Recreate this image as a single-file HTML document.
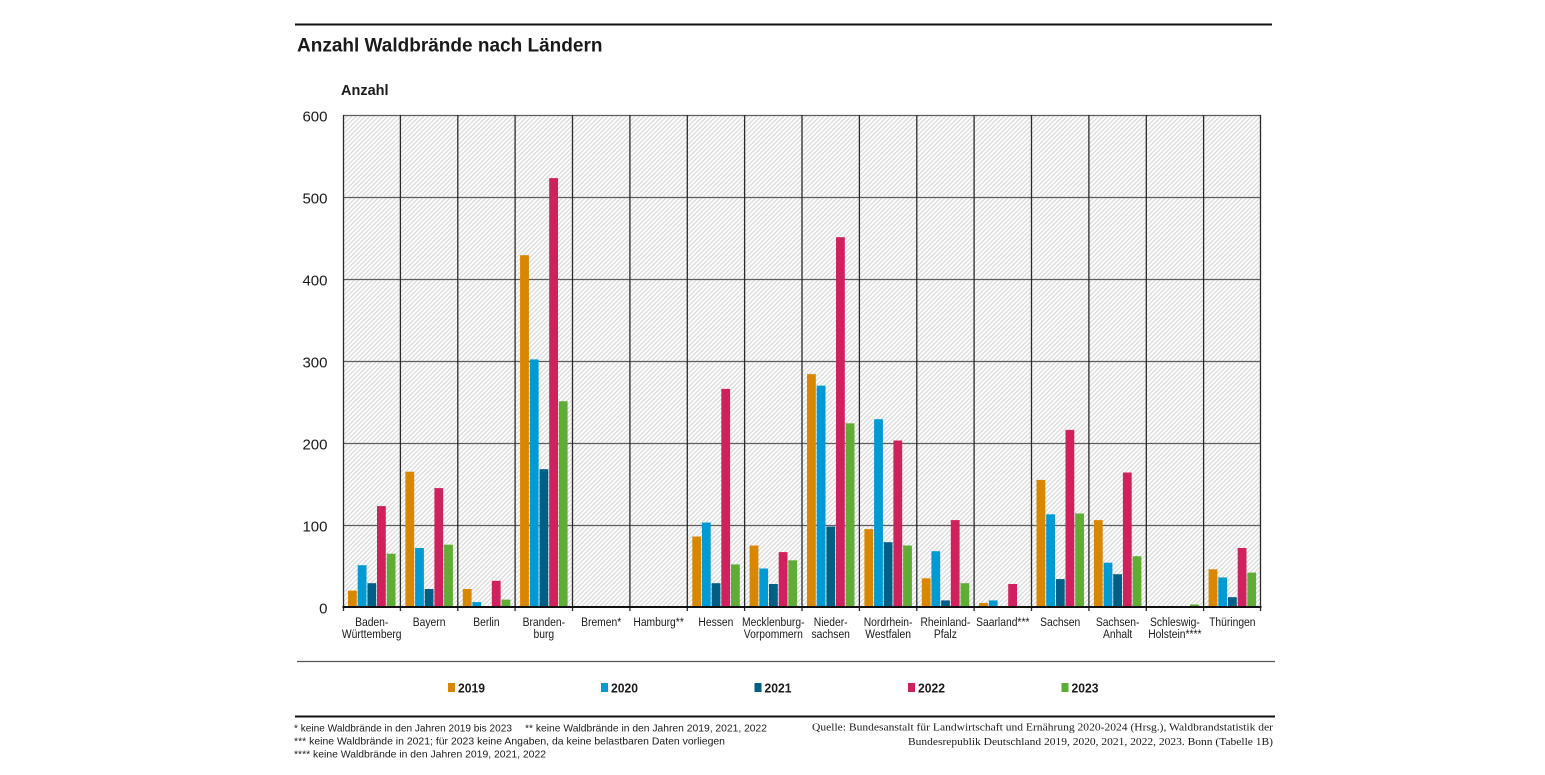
<!DOCTYPE html>
<html>
<head>
<meta charset="utf-8">
<style>
  html,body{margin:0;padding:0;background:#fff;}
  body{width:1545px;height:775px;overflow:hidden;}
  svg{display:block;}
  text{font-family:"Liberation Sans",Arial,sans-serif;fill:#1a1a1a;}
  .serif{font-family:"Liberation Serif","Times New Roman",serif;}
</style>
</head>
<body>
<svg width="1545" height="775" viewBox="0 0 1545 775" xmlns="http://www.w3.org/2000/svg">
  <defs>
    <pattern id="h" width="4.5" height="4.5" patternUnits="userSpaceOnUse">
      <rect width="4.5" height="4.5" fill="#fdfdfd"/>
      <path d="M-1,1 l2,-2 M0,4.5 l4.5,-4.5 M3.5,5.5 l2,-2" stroke="#d6d6d6" stroke-width="1.1"/>
    </pattern>
  </defs>

  <!-- top rule & title -->
  <line x1="295" y1="24.5" x2="1272" y2="24.5" stroke="#111" stroke-width="2"/>
  <text x="297" y="51.5" font-size="19" font-weight="bold">Anzahl Waldbrände nach Ländern</text>
  <text x="341" y="95" font-size="14.5" font-weight="bold">Anzahl</text>

  <!-- plot background -->
  <rect x="343" y="115" width="918" height="492" fill="url(#h)"/>

  <!-- horizontal grid -->
  <g stroke="#5e5e5e" stroke-width="1.3">
    <line x1="343" y1="115.5" x2="1261" y2="115.5"/>
    <line x1="343" y1="197.5" x2="1261" y2="197.5"/>
    <line x1="343" y1="279.5" x2="1261" y2="279.5"/>
    <line x1="343" y1="361.5" x2="1261" y2="361.5"/>
    <line x1="343" y1="443.5" x2="1261" y2="443.5"/>
    <line x1="343" y1="525.5" x2="1261" y2="525.5"/>
  </g>
  <!-- vertical grid -->
  <g stroke="#2a2a2a" stroke-width="1.3">
    <line x1="343.5" y1="115" x2="343.5" y2="611"/>
    <line x1="400.4" y1="115" x2="400.4" y2="611"/>
    <line x1="457.8" y1="115" x2="457.8" y2="611"/>
    <line x1="515.1" y1="115" x2="515.1" y2="611"/>
    <line x1="572.5" y1="115" x2="572.5" y2="611"/>
    <line x1="629.9" y1="115" x2="629.9" y2="611"/>
    <line x1="687.3" y1="115" x2="687.3" y2="611"/>
    <line x1="744.6" y1="115" x2="744.6" y2="611"/>
    <line x1="802" y1="115" x2="802" y2="611"/>
    <line x1="859.4" y1="115" x2="859.4" y2="611"/>
    <line x1="916.8" y1="115" x2="916.8" y2="611"/>
    <line x1="974.1" y1="115" x2="974.1" y2="611"/>
    <line x1="1031.5" y1="115" x2="1031.5" y2="611"/>
    <line x1="1088.9" y1="115" x2="1088.9" y2="611"/>
    <line x1="1146.3" y1="115" x2="1146.3" y2="611"/>
    <line x1="1203.6" y1="115" x2="1203.6" y2="611"/>
    <line x1="1260.5" y1="115" x2="1260.5" y2="611"/>
  </g>

  <!-- bars -->
  <g>
    <!-- 2019 orange -->
    <g fill="#d98700">
      <rect x="348" y="590.6" width="8.8" height="16.4"/>
      <rect x="405.4" y="471.7" width="8.8" height="135.3"/>
      <rect x="462.8" y="589" width="8.8" height="18"/>
      <rect x="520.1" y="255.2" width="8.8" height="351.8"/>
      <rect x="692.3" y="536.5" width="8.8" height="70.5"/>
      <rect x="749.6" y="545.5" width="8.8" height="61.5"/>
      <rect x="807" y="374.1" width="8.8" height="232.9"/>
      <rect x="864.4" y="529.1" width="8.8" height="77.9"/>
      <rect x="921.8" y="578.3" width="8.8" height="28.7"/>
      <rect x="979.1" y="602.9" width="8.8" height="4.1"/>
      <rect x="1036.5" y="479.9" width="8.8" height="127.1"/>
      <rect x="1093.9" y="520.1" width="8.8" height="86.9"/>
      <rect x="1208.6" y="569.3" width="8.8" height="37.7"/>
    </g>
    <!-- 2020 blue -->
    <g fill="#009bd5">
      <rect x="357.7" y="565.2" width="8.8" height="41.8"/>
      <rect x="415.1" y="548" width="8.8" height="59"/>
      <rect x="472.4" y="602.1" width="8.8" height="4.9"/>
      <rect x="529.8" y="359.4" width="8.8" height="247.6"/>
      <rect x="701.9" y="522.5" width="8.8" height="84.5"/>
      <rect x="759.3" y="568.5" width="8.8" height="38.5"/>
      <rect x="816.7" y="385.6" width="8.8" height="221.4"/>
      <rect x="874.1" y="419.2" width="8.8" height="187.8"/>
      <rect x="931.4" y="551.2" width="8.8" height="55.8"/>
      <rect x="988.8" y="600.4" width="8.8" height="6.6"/>
      <rect x="1046.2" y="514.3" width="8.8" height="92.7"/>
      <rect x="1103.6" y="562.7" width="8.8" height="44.3"/>
      <rect x="1218.3" y="577.5" width="8.8" height="29.5"/>
    </g>
    <!-- 2021 dark -->
    <g fill="#005f85">
      <rect x="367.4" y="583.2" width="8.8" height="23.8"/>
      <rect x="424.7" y="589" width="8.8" height="18"/>
      <rect x="539.5" y="469.2" width="8.8" height="137.8"/>
      <rect x="711.6" y="583.2" width="8.8" height="23.8"/>
      <rect x="769" y="584" width="8.8" height="23"/>
      <rect x="826.4" y="526.6" width="8.8" height="80.4"/>
      <rect x="883.7" y="542.2" width="8.8" height="64.8"/>
      <rect x="941.1" y="600.4" width="8.8" height="6.6"/>
      <rect x="1055.9" y="579.1" width="8.8" height="27.9"/>
      <rect x="1113.2" y="574.2" width="8.8" height="32.8"/>
      <rect x="1228" y="597.2" width="8.8" height="9.8"/>
    </g>
    <!-- 2022 pink -->
    <g fill="#d0215f">
      <rect x="377" y="506.1" width="8.8" height="100.9"/>
      <rect x="434.4" y="488.1" width="8.8" height="118.9"/>
      <rect x="491.8" y="580.8" width="8.8" height="26.2"/>
      <rect x="549.2" y="178.1" width="8.8" height="428.9"/>
      <rect x="721.3" y="388.9" width="8.8" height="218.1"/>
      <rect x="778.7" y="552.1" width="8.8" height="54.9"/>
      <rect x="836" y="237.2" width="8.8" height="369.8"/>
      <rect x="893.4" y="440.5" width="8.8" height="166.5"/>
      <rect x="950.8" y="520.1" width="8.8" height="86.9"/>
      <rect x="1008.2" y="584" width="8.8" height="23"/>
      <rect x="1065.5" y="429.9" width="8.8" height="177.1"/>
      <rect x="1122.9" y="472.5" width="8.8" height="134.5"/>
      <rect x="1237.7" y="548" width="8.8" height="59"/>
    </g>
    <!-- 2023 green -->
    <g fill="#5fad35">
      <rect x="386.7" y="553.7" width="8.8" height="53.3"/>
      <rect x="444.1" y="544.7" width="8.8" height="62.3"/>
      <rect x="501.5" y="599.6" width="8.8" height="7.4"/>
      <rect x="558.8" y="401.2" width="8.8" height="205.8"/>
      <rect x="731" y="564.4" width="8.8" height="42.6"/>
      <rect x="788.3" y="560.3" width="8.8" height="46.7"/>
      <rect x="845.7" y="423.3" width="8.8" height="183.7"/>
      <rect x="903.1" y="545.5" width="8.8" height="61.5"/>
      <rect x="960.5" y="583.2" width="8.8" height="23.8"/>
      <rect x="1075.2" y="513.5" width="8.8" height="93.5"/>
      <rect x="1132.6" y="556.2" width="8.8" height="50.8"/>
      <rect x="1190" y="604.5" width="8.8" height="2.5"/>
      <rect x="1247.3" y="572.6" width="8.8" height="34.4"/>
    </g>
  </g>

  <!-- baseline axis -->
  <line x1="342.5" y1="607" x2="1261.5" y2="607" stroke="#111" stroke-width="2"/>

  <!-- y tick labels -->
  <g font-size="15" text-anchor="end">
    <text x="327.5" y="121.5">600</text>
    <text x="327.5" y="203.5">500</text>
    <text x="327.5" y="285.5">400</text>
    <text x="327.5" y="367.5">300</text>
    <text x="327.5" y="449.5">200</text>
    <text x="327.5" y="531.5">100</text>
    <text x="327.5" y="613.5">0</text>
  </g>

  <!-- x labels -->
  <g font-size="12" text-anchor="middle">
    <text transform="translate(371.7,626) scale(0.86,1)">Baden-</text>
    <text transform="translate(371.7,638) scale(0.86,1)">Württemberg</text>
    <text transform="translate(429.1,626) scale(0.86,1)">Bayern</text>
    <text transform="translate(486.4,626) scale(0.86,1)">Berlin</text>
    <text transform="translate(543.8,626) scale(0.86,1)">Branden-</text>
    <text transform="translate(543.8,638) scale(0.86,1)">burg</text>
    <text transform="translate(601.2,626) scale(0.86,1)">Bremen*</text>
    <text transform="translate(658.6,626) scale(0.86,1)">Hamburg**</text>
    <text transform="translate(715.9,626) scale(0.86,1)">Hessen</text>
    <text transform="translate(773.3,626) scale(0.86,1)">Mecklenburg-</text>
    <text transform="translate(773.3,638) scale(0.86,1)">Vorpommern</text>
    <text transform="translate(830.7,626) scale(0.86,1)">Nieder-</text>
    <text transform="translate(830.7,638) scale(0.86,1)">sachsen</text>
    <text transform="translate(888.1,626) scale(0.86,1)">Nordrhein-</text>
    <text transform="translate(888.1,638) scale(0.86,1)">Westfalen</text>
    <text transform="translate(945.4,626) scale(0.86,1)">Rheinland-</text>
    <text transform="translate(945.4,638) scale(0.86,1)">Pfalz</text>
    <text transform="translate(1002.8,626) scale(0.86,1)">Saarland***</text>
    <text transform="translate(1060.2,626) scale(0.86,1)">Sachsen</text>
    <text transform="translate(1117.6,626) scale(0.86,1)">Sachsen-</text>
    <text transform="translate(1117.6,638) scale(0.86,1)">Anhalt</text>
    <text transform="translate(1174.9,626) scale(0.86,1)">Schleswig-</text>
    <text transform="translate(1174.9,638) scale(0.86,1)">Holstein****</text>
    <text transform="translate(1232.3,626) scale(0.86,1)">Thüringen</text>
  </g>

  <!-- separator -->
  <line x1="297" y1="661.5" x2="1275" y2="661.5" stroke="#555" stroke-width="1.3"/>

  <!-- legend -->
  <rect x="448" y="683" width="7" height="9" fill="#d98700"/>
  <text x="458" y="692.5" font-size="13" font-weight="bold" textLength="27" lengthAdjust="spacingAndGlyphs">2019</text>
  <rect x="601" y="683" width="7" height="9" fill="#009bd5"/>
  <text x="611" y="692.5" font-size="13" font-weight="bold" textLength="27" lengthAdjust="spacingAndGlyphs">2020</text>
  <rect x="754.5" y="683" width="7" height="9" fill="#005f85"/>
  <text x="764.5" y="692.5" font-size="13" font-weight="bold" textLength="27" lengthAdjust="spacingAndGlyphs">2021</text>
  <rect x="908" y="683" width="7" height="9" fill="#d0215f"/>
  <text x="918" y="692.5" font-size="13" font-weight="bold" textLength="27" lengthAdjust="spacingAndGlyphs">2022</text>
  <rect x="1061.5" y="683" width="7" height="9" fill="#5fad35"/>
  <text x="1071.5" y="692.5" font-size="13" font-weight="bold" textLength="27" lengthAdjust="spacingAndGlyphs">2023</text>

  <!-- bottom rule -->
  <line x1="295" y1="716.5" x2="1275" y2="716.5" stroke="#111" stroke-width="2"/>

  <!-- footnotes -->
  <g font-size="10.5">
    <text x="294" y="731.5" textLength="218" lengthAdjust="spacingAndGlyphs">* keine Waldbrände in den Jahren 2019 bis 2023</text>
    <text x="525" y="731.5" textLength="242" lengthAdjust="spacingAndGlyphs">** keine Waldbrände in den Jahren 2019, 2021, 2022</text>
    <text x="294" y="744.5" textLength="431" lengthAdjust="spacingAndGlyphs">*** keine Waldbrände in 2021; für 2023 keine Angaben, da keine belastbaren Daten vorliegen</text>
    <text x="294" y="757.5" textLength="252" lengthAdjust="spacingAndGlyphs">**** keine Waldbrände in den Jahren 2019, 2021, 2022</text>
  </g>

  <!-- source -->
  <g font-size="10.5">
    <text class="serif" x="812" y="730.5" textLength="461" lengthAdjust="spacingAndGlyphs">Quelle: Bundesanstalt für Landwirtschaft und Ernährung 2020-2024 (Hrsg.), Waldbrandstatistik der</text>
    <text class="serif" x="908" y="745" textLength="365" lengthAdjust="spacingAndGlyphs">Bundesrepublik Deutschland 2019, 2020, 2021, 2022, 2023. Bonn (Tabelle 1B)</text>
  </g>
</svg>
</body>
</html>
